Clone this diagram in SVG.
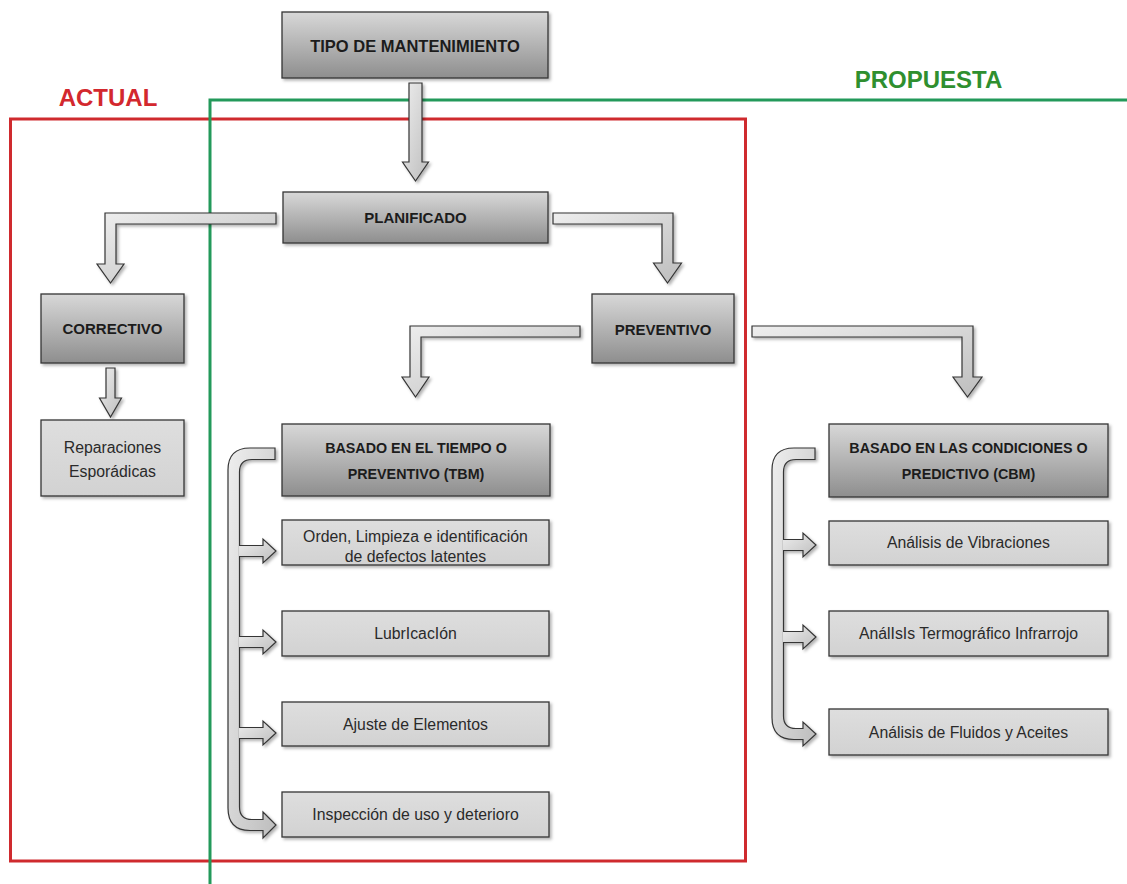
<svg xmlns="http://www.w3.org/2000/svg" width="1127" height="884" viewBox="0 0 1127 884">
  <style>
    .bg { fill: #ffffff; }
    .frame-red { fill: none; stroke: #cf2a2e; stroke-width: 3; }
    .frame-green { fill: none; stroke: #23995a; stroke-width: 3; }
    .zone-red { font-family: "Liberation Sans", Arial, sans-serif; font-weight: bold; font-size: 24px; fill: #d3282e; }
    .zone-green { font-family: "Liberation Sans", Arial, sans-serif; font-weight: bold; font-size: 24px; fill: #2f8f2f; }
    .box-dark { fill: url(#gDark); stroke: #353535; stroke-width: 1.3; filter: url(#shadow); }
    .box-light { fill: url(#gLight); stroke: #353535; stroke-width: 1.3; filter: url(#shadow); }
    .arrow { fill: url(#gArrow); stroke: #353535; stroke-width: 1.2; stroke-linejoin: miter; filter: url(#shadow); }
    .t-bold { font-family: "Liberation Sans", Arial, sans-serif; font-weight: bold; font-size: 15px; fill: #1c1c1c; text-anchor: middle; }
    .t-title { font-size: 16.5px; }
    .t-sub { font-size: 14.3px; }
    .t-reg { font-family: "Liberation Sans", Arial, sans-serif; font-size: 15.8px; fill: #2a2a2a; text-anchor: middle; }
  </style>
  <defs>
    <linearGradient id="gDark" x1="0" y1="0" x2="0" y2="1">
      <stop offset="0" stop-color="#d8d8d8"/>
      <stop offset="1" stop-color="#8e8e8e"/>
    </linearGradient>
    <linearGradient id="gLight" x1="0" y1="0" x2="0" y2="1">
      <stop offset="0" stop-color="#dedede"/>
      <stop offset="1" stop-color="#d2d2d2"/>
    </linearGradient>
    <linearGradient id="gArrow" x1="0" y1="0" x2="1" y2="1">
      <stop offset="0" stop-color="#eeeeee"/>
      <stop offset="1" stop-color="#bdbdbd"/>
    </linearGradient>
    <filter id="shadow" x="-10%" y="-10%" width="130%" height="130%">
      <feDropShadow dx="2" dy="2" stdDeviation="1.5" flood-color="#000" flood-opacity="0.3"/>
    </filter>
  </defs>

  <rect class="bg" x="0" y="0" width="1127" height="884"/>

  <!-- scope frames -->
  <g id="frames">
    <rect class="frame-red" x="10.5" y="119" width="735" height="742"/>
    <polyline class="frame-green" points="1127,100 210,100 210,884"/>
    <text class="zone-red" x="108" y="106" text-anchor="middle">ACTUAL</text>
    <text class="zone-green" x="928.5" y="88" text-anchor="middle">PROPUESTA</text>
  </g>

  <!-- connectors -->
  <g id="connectors">
    <!-- tipo -> planificado -->
    <path class="arrow" d="M409,83 H422 V162 H428.5 L415.5,181 L402.5,162 H409 Z"/>
    <!-- planificado -> correctivo -->
    <path class="arrow" d="M276,213 V224 H116 V264 H124 L110.5,283 L97,264 H105 V213 Z"/>
    <!-- planificado -> preventivo -->
    <path class="arrow" d="M553,213 H673 V263 H681.5 L667.5,283 L653.5,263 H662 V224 H553 Z"/>
    <!-- correctivo -> reparaciones -->
    <path class="arrow" d="M106,368 H115 V398 H121.5 L110.5,417 L99.5,398 H106 Z"/>
    <!-- preventivo -> TBM -->
    <path class="arrow" d="M580,326 V337 H421 V377 H429 L415.5,397 L402,377 H410 V326 Z"/>
    <!-- preventivo -> CBM -->
    <path class="arrow" d="M752,326 H973 V377 H982 L967.5,397 L953,377 H962 V337 H752 Z"/>

    <!-- TBM bracket -->
    <path class="arrow" d="M275,448 H250 Q228,448 228,470 V808 Q228,830.5 250,830.5 H263 V838 L276,825 L263,812 V819.5 H252 Q239.5,819.5 239.5,807 V472 Q239.5,459.5 252,459.5 H275 Z"/>
    <path class="arrow" d="M239,545.5 H263 V539 L276,551 L263,563 V556.5 H239"/>
    <path class="arrow" d="M239,636.5 H263 V630 L276,642 L263,654 V647.5 H239"/>
    <path class="arrow" d="M239,727.5 H263 V721 L276,733 L263,745 V738.5 H239"/>

    <!-- CBM bracket -->
    <path class="arrow" d="M815,448 H794 Q772,448 772,470 V717.5 Q772,739.5 794,739.5 H803 V746 L816,734 L803,722 V728.5 H796 Q783.5,728.5 783.5,716 V472 Q783.5,459.5 796,459.5 H815 Z"/>
    <path class="arrow" d="M783,539.5 H803 V533 L816,545 L803,557 V550.5 H783"/>
    <path class="arrow" d="M783,631.5 H803 V625 L816,637 L803,649 V642.5 H783"/>
  </g>

  <!-- nodes -->
  <g id="tipo">
    <rect class="box-dark" x="282" y="12" width="266" height="66"/>
    <text class="t-bold t-title" x="415" y="52">TIPO DE MANTENIMIENTO</text>
  </g>
  <g id="planificado">
    <rect class="box-dark" x="283" y="192" width="265" height="51"/>
    <text class="t-bold" x="415.5" y="223">PLANIFICADO</text>
  </g>
  <g id="correctivo">
    <rect class="box-dark" x="41" y="294" width="143" height="69"/>
    <text class="t-bold" x="112.5" y="334">CORRECTIVO</text>
  </g>
  <g id="reparaciones">
    <rect class="box-light" x="41" y="420" width="143" height="76"/>
    <text class="t-reg" x="112.5" y="453">Reparaciones</text>
    <text class="t-reg" x="112.5" y="477">Esporádicas</text>
  </g>
  <g id="preventivo">
    <rect class="box-dark" x="592" y="294" width="142" height="69"/>
    <text class="t-bold" x="663" y="335">PREVENTIVO</text>
  </g>
  <g id="tbm">
    <rect class="box-dark" x="282" y="424" width="268" height="72"/>
    <text class="t-bold t-sub" x="416" y="453">BASADO EN EL TIEMPO O</text>
    <text class="t-bold t-sub" x="416" y="479">PREVENTIVO (TBM)</text>
  </g>
  <g id="orden">
    <rect class="box-light" x="282" y="520" width="267" height="45"/>
    <text class="t-reg" x="415.5" y="542">Orden, Limpieza e identificación</text>
    <text class="t-reg" x="415.5" y="562">de defectos latentes</text>
  </g>
  <g id="lubricacion">
    <rect class="box-light" x="282" y="611" width="267" height="45"/>
    <text class="t-reg" x="415.5" y="639">LubrIcacIón</text>
  </g>
  <g id="ajuste">
    <rect class="box-light" x="282" y="702" width="267" height="44"/>
    <text class="t-reg" x="415.5" y="729.5">Ajuste de Elementos</text>
  </g>
  <g id="inspeccion">
    <rect class="box-light" x="282" y="792" width="267" height="45"/>
    <text class="t-reg" x="415.5" y="820">Inspección de uso y deterioro</text>
  </g>
  <g id="cbm">
    <rect class="box-dark" x="829" y="424" width="279" height="73"/>
    <text class="t-bold t-sub" x="968.5" y="453">BASADO EN LAS CONDICIONES O</text>
    <text class="t-bold t-sub" x="968.5" y="479">PREDICTIVO (CBM)</text>
  </g>
  <g id="vibraciones">
    <rect class="box-light" x="829" y="521" width="279" height="44"/>
    <text class="t-reg" x="968.5" y="548">Análisis de Vibraciones</text>
  </g>
  <g id="termografico">
    <rect class="box-light" x="829" y="611" width="279" height="45"/>
    <text class="t-reg" x="968.5" y="639">AnálIsIs Termográfico Infrarrojo</text>
  </g>
  <g id="fluidos">
    <rect class="box-light" x="829" y="709" width="279" height="46"/>
    <text class="t-reg" x="968.5" y="737.5">Análisis de Fluidos y Aceites</text>
  </g>
</svg>
